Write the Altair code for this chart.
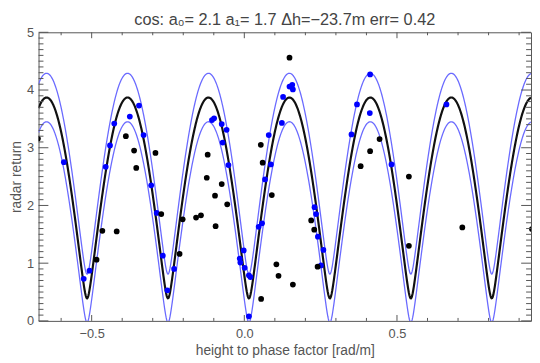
import altair as alt
import numpy as np
import pandas as pd

# Fit parameters (read from title / curve): model = |a0 + a1*exp(i*(k*dh + phase))|
A0 = 2.13
A1 = 1.74
DH = -23.7
PHASE = 3.50
ERR = 0.42
TITLE = "cos: a\u2080= 2.1 a\u2081= 1.7 \u0394h=\u221223.7m err= 0.42"

X_DOMAIN = [-0.674, 0.939]
Y_DOMAIN = [0, 5]

# blue points (selected / in-band)
blue_k = [-0.591, -0.526, -0.507, -0.454, -0.440, -0.426, -0.375, -0.345, -0.330, -0.305,
          -0.287, -0.267, -0.252, -0.230, -0.106, -0.099, -0.074, -0.058, -0.071, -0.052,
          -0.002, -0.015, -0.013, 0.001, 0.015, 0.020, 0.015, 0.047, 0.058, 0.068,
          0.087, 0.080, 0.123, 0.127, 0.148, 0.157, 0.159, 0.412, 0.369, 0.411,
          0.351, 0.482, 0.662, 0.230, 0.235, 0.241, 0.259, 0.251]
blue_v = [2.75, 0.73, 0.87, 2.67, 3.04, 3.42, 3.54, 3.73, 3.22, 2.35,
          1.87, 1.13, 0.53, 0.90, 3.48, 3.51, 3.41, 3.31, 3.09, 2.70,
          1.22, 1.08, 1.01, 0.92, 0.79, 0.76, 0.08, 1.63, 1.69, 2.45,
          2.71, 3.22, 3.43, 3.88, 4.06, 4.09, 4.01, 4.27, 3.75, 3.60,
          3.23, 2.71, 3.75, 1.97, 1.85, 1.46, 1.23, 0.96]

# black points (outliers)
black_k = [-0.676, -0.484, -0.465, -0.418, -0.388, -0.361, -0.354, -0.291, -0.272, -0.212,
           -0.202, -0.158, -0.142, -0.120, -0.123, -0.074, -0.096, -0.056, -0.094, 0.054,
           0.060, 0.090, 0.105, 0.112, 0.159, 0.055, 0.148, 0.443, 0.412, 0.381,
           0.539, 0.219, 0.229, 0.240, 0.539, 0.714, 0.942]
black_v = [3.16, 1.06, 1.56, 1.55, 3.20, 2.95, 2.65, 2.91, 1.85, 1.16,
           1.76, 1.79, 1.83, 2.88, 2.48, 2.37, 2.17, 2.02, 1.64, 3.05,
           2.74, 2.18, 0.98, 0.78, 0.63, 0.38, 4.56, 3.15, 2.94, 2.68,
           2.50, 1.74, 1.58, 0.94, 1.30, 1.62, 1.59]

x_major = [-0.5, 0.0, 0.5]
x_minor = [-0.6, -0.4, -0.3, -0.2, -0.1, 0.1, 0.2, 0.3, 0.4, 0.6, 0.7, 0.8, 0.9]
y_major = [0, 1, 2, 3, 4, 5]
y_minor = [round(i * 0.1, 1) for i in range(1, 50) if i % 10]

W, H = 500, 293
AXC = "#555555"
FONT = "Liberation Sans"

xs = alt.Scale(domain=X_DOMAIN, nice=False, zero=False)
ys = alt.Scale(domain=Y_DOMAIN, nice=False, zero=False)

AX_X = alt.Axis(values=x_major, format=".1f", title="height to phase factor [rad/m]",
                ticks=False, tickSize=0, domain=False, grid=False, labelPadding=7, titlePadding=3)
AX_Y = alt.Axis(values=y_major, format="d", title="radar return",
                ticks=False, tickSize=0, domain=False, grid=False, labelPadding=5, titlePadding=3.5)

# model curve from fit parameters
kk = np.linspace(X_DOMAIN[0], X_DOMAIN[1], 900)
model = np.sqrt(A0 ** 2 + A1 ** 2 + 2 * A0 * A1 * np.cos(kk * DH + PHASE))
curve = pd.DataFrame({"k": kk, "mid": model, "up": model + ERR, "lo": model - ERR})

pts = pd.DataFrame({
    "k": blue_k + black_k,
    "v": blue_v + black_v,
    "grp": ["blue"] * len(blue_k) + ["black"] * len(black_k),
})


def line(field, color, width):
    return alt.Chart(curve).mark_line(color=color, strokeWidth=width, clip=True).encode(
        x=alt.X("k:Q", scale=xs, axis=AX_X),
        y=alt.Y(f"{field}:Q", scale=ys, axis=AX_Y),
    )


lines = [line("up", "#6a6aff", 1.3), line("lo", "#6a6aff", 1.3), line("mid", "#111111", 2.2)]

points = alt.Chart(pts).mark_circle(size=34, opacity=1, clip=True).encode(
    x=alt.X("k:Q", scale=xs, axis=AX_X),
    y=alt.Y("v:Q", scale=ys, axis=AX_Y),
    color=alt.Color("grp:N", scale=alt.Scale(domain=["blue", "black"], range=["#0000ff", "#000000"]),
                    legend=None),
)


def xticks(vals, length):
    df = pd.DataFrame({"t": vals})
    base = alt.Chart(df).mark_rule(color=AXC, strokeWidth=1)
    return [
        base.encode(x=alt.X("t:Q", scale=xs, axis=AX_X), y=alt.value(H), y2=alt.value(H - length)),
        base.encode(x=alt.X("t:Q", scale=xs, axis=AX_X), y=alt.value(0), y2=alt.value(length)),
    ]


def yticks(vals, length):
    df = pd.DataFrame({"t": vals})
    base = alt.Chart(df).mark_rule(color=AXC, strokeWidth=1)
    return [
        base.encode(y=alt.Y("t:Q", scale=ys, axis=AX_Y), x=alt.value(0), x2=alt.value(length)),
        base.encode(y=alt.Y("t:Q", scale=ys, axis=AX_Y), x=alt.value(W - length), x2=alt.value(W)),
    ]


ticks = xticks(x_major, 6) + xticks(x_minor, 3) + yticks(y_major, 10) + yticks(y_minor, 5)

chart = alt.layer(*lines, points, *ticks).properties(
    width=W,
    height=H,
    title=alt.TitleParams(TITLE, fontSize=16.5, font=FONT, color="#444444", fontWeight="normal",
                          anchor="middle", offset=0, dy=2.5),
    autosize=alt.AutoSizeParams(type="none"),
    padding={"left": 31, "top": 22, "right": 1, "bottom": 35},
).configure_view(
    stroke=AXC, strokeWidth=1
).configure_axis(
    labelFont=FONT, titleFont=FONT, labelFontSize=13, titleFontSize=14,
    labelColor="#555555", titleColor="#555555", titleFontWeight="normal"
)

chart.save("out.html", embed_options={"renderer": "svg", "actions": False})
